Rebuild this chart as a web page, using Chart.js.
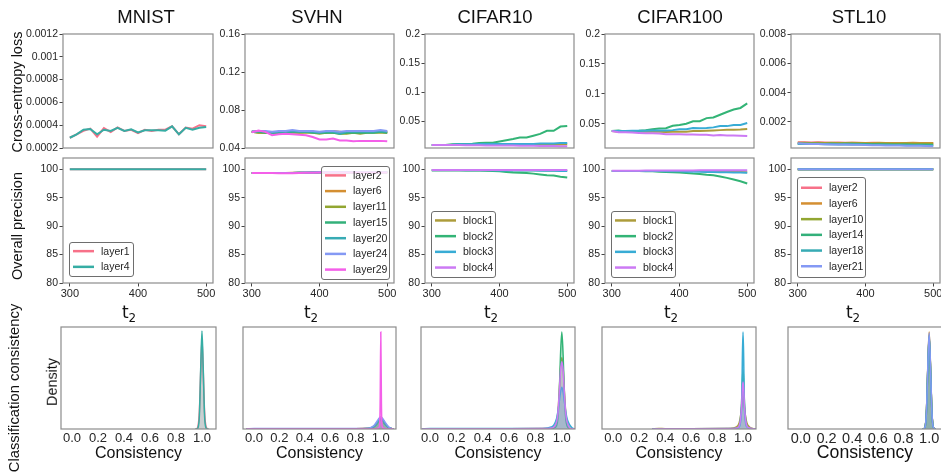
<!DOCTYPE html>
<html><head><meta charset="utf-8">
<script src="https://cdn.jsdelivr.net/npm/chart.js@4.4.1/dist/chart.umd.min.js"></script>
<style>
html,body{margin:0;padding:0;background:#fff;}
body{width:941px;height:472px;overflow:hidden;position:relative;font-family:"Liberation Sans",Arial,sans-serif;}
canvas{position:absolute;}
.lbl{position:absolute;white-space:nowrap;color:#111;line-height:1;}
</style></head><body>
<script>
// ---------------- DATA ----------------
const T2 = [300,310,320,330,340,350,360,370,380,390,400,410,420,430,440,450,460,470,480,490,500];
const T2_TICKS = [300,400,500];
const PREC_TICKS = [80,85,90,95,100];
const CONS_TICKS = [0,0.2,0.4,0.6,0.8,1.0];
const CONS_TICK_LABELS = ['0.0','0.2','0.4','0.6','0.8','1.0'];
const TITLES = ['MNIST','SVHN','CIFAR10','CIFAR100','STL10'];

// MNIST
const mnistSeries = ['layer1','layer4'];
const mnistLossTicks = [0.0002,0.0004,0.0006,0.0008,0.001,0.0012];
const mnistLossTickLabels = ['0.0002','0.0004','0.0006','0.0008','0.001','0.0012'];
const mnistLossL1 = [0.00029,0.00032,0.00035,0.00037,0.00030,0.000375,0.00034,0.00038,0.00035,0.00036,0.00033,0.00036,0.00035,0.00036,0.00036,0.00039,0.00032,0.00038,0.00037,0.00040,0.00039];
const mnistLossL4 = [0.00029,0.00032,0.00036,0.000367,0.00032,0.00036,0.00035,0.000377,0.00035,0.000364,0.000337,0.000356,0.000356,0.000356,0.000352,0.00039,0.00032,0.000377,0.00036,0.000377,0.000385];
const mnistPrecL1 = [100,100,100,100,100,100,100,100,100,100,100,100,100,100,100,100,100,100,100,100,100];
const mnistPrecL4 = [100,100,100,100,100,100,100,100,100,100,100,100,100,100,100,100,100,100,100,100,100];
const mnistDensX = [0.95,0.96,0.97,0.98,0.99,1.00,1.01,1.02,1.03,1.04,1.05];
const mnistDensL1 = [0,0.5,3,17,55,88,55,17,3,0.5,0];
const mnistDensL4 = [0,0,1.5,13,58,96,58,13,1.5,0,0];

// SVHN
const svhnSeries = ['layer2','layer6','layer11','layer15','layer20','layer24','layer29'];
const svhnLossTicks = [0.04,0.08,0.12,0.16];
const svhnLossTickLabels = ['0.04','0.08','0.12','0.16'];
const svhnLossL2  = [0.057,0.058,0.057,0.056,0.056,0.057,0.057,0.057,0.057,0.057,0.056,0.057,0.057,0.056,0.056,0.057,0.057,0.057,0.057,0.057,0.057];
const svhnLossL6  = [0.057,0.056,0.056,0.056,0.057,0.057,0.057,0.056,0.057,0.057,0.056,0.056,0.058,0.057,0.056,0.056,0.057,0.057,0.057,0.057,0.056];
const svhnLossL11 = [0.057,0.056,0.056,0.056,0.056,0.056,0.056,0.056,0.056,0.056,0.055,0.056,0.056,0.055,0.055,0.056,0.055,0.056,0.056,0.056,0.056];
const svhnLossL15 = [0.057,0.057,0.056,0.056,0.056,0.056,0.057,0.057,0.057,0.056,0.056,0.056,0.056,0.055,0.056,0.056,0.056,0.056,0.056,0.057,0.056];
const svhnLossL20 = [0.057,0.058,0.057,0.056,0.057,0.057,0.058,0.057,0.057,0.057,0.056,0.057,0.057,0.055,0.057,0.057,0.057,0.057,0.057,0.058,0.057];
const svhnLossL24 = [0.057,0.058,0.058,0.057,0.058,0.058,0.059,0.058,0.058,0.058,0.057,0.058,0.058,0.057,0.058,0.058,0.058,0.058,0.058,0.059,0.058];
const svhnLossL29 = [0.0565,0.0585,0.057,0.0535,0.0545,0.055,0.0545,0.054,0.0535,0.0515,0.049,0.049,0.050,0.048,0.048,0.047,0.0475,0.0475,0.0475,0.0475,0.047];
const svhnPrecL2  = [99.35,99.35,99.35,99.35,99.35,99.35,99.35,99.4,99.4,99.45,99.5,99.5,99.5,99.5,99.5,99.5,99.5,99.5,99.5,99.5,99.5];
const svhnPrecL6  = [99.35,99.35,99.35,99.35,99.35,99.35,99.4,99.4,99.4,99.45,99.5,99.5,99.5,99.5,99.5,99.5,99.5,99.5,99.55,99.5,99.5];
const svhnPrecL11 = [99.35,99.35,99.35,99.35,99.35,99.35,99.35,99.4,99.4,99.45,99.5,99.5,99.5,99.5,99.5,99.5,99.5,99.5,99.5,99.5,99.5];
const svhnPrecL15 = [99.35,99.35,99.35,99.35,99.35,99.35,99.35,99.4,99.4,99.4,99.45,99.5,99.5,99.5,99.5,99.5,99.5,99.5,99.5,99.5,99.5];
const svhnPrecL20 = [99.35,99.35,99.35,99.35,99.35,99.35,99.35,99.4,99.4,99.45,99.5,99.5,99.5,99.5,99.5,99.5,99.5,99.5,99.5,99.5,99.5];
const svhnPrecL24 = [99.35,99.35,99.35,99.35,99.35,99.35,99.35,99.4,99.45,99.45,99.5,99.5,99.55,99.5,99.5,99.5,99.5,99.5,99.5,99.5,99.5];
const svhnPrecL29 = [99.35,99.35,99.35,99.35,99.3,99.3,99.3,99.35,99.4,99.4,99.45,99.45,99.45,99.45,99.45,99.45,99.45,99.45,99.45,99.45,99.45];
const svhnDensX = [-0.06,0.0,0.2,0.4,0.6,0.8,0.9,0.93,0.95,0.97,0.98,0.99,0.995,1.0,1.005,1.01,1.02,1.03,1.05,1.07,1.1];
const svhnDensL2  = [0,0.3,0.3,0.3,0.3,0.3,0.4,1.2,2.5,5,7,8,8.5,9,8.5,8,7,5,2.5,0.8,0];
const svhnDensL6  = [0,0.3,0.3,0.3,0.3,0.3,0.4,1.2,2.5,5,7,8,8.5,9,8.5,8,7,5,2.5,0.8,0];
const svhnDensL11 = [0,0.3,0.3,0.3,0.3,0.3,0.4,1.2,2.5,5,7,8,8.5,9,8.5,8,7,5,2.5,0.8,0];
const svhnDensL15 = [0,0.3,0.3,0.3,0.3,0.3,0.5,1.4,2.8,5.5,7.5,8.5,9,9.5,9,8.5,7.5,5.5,2.8,0.9,0];
const svhnDensL20 = [0,0.3,0.3,0.3,0.3,0.3,0.5,1.5,3,6,8,9.5,10,10.5,10,9.5,8,6,3,1,0];
const svhnDensL24 = [0,0.5,0.5,0.5,0.5,0.5,0.7,2,4,7.5,9.5,11,11.5,12,11.5,11,9.5,7.5,4,1.3,0];
const svhnDensL29 = [0,0,0,0,0,0,0,0,0.2,0.5,1,3,25,95,25,3,1,0.5,0,0,0];

// CIFAR10
const c10Series = ['block1','block2','block3','block4'];
const cifLossTicks = [0.05,0.1,0.15,0.2];
const cifLossTickLabels = ['0.05','0.1','0.15','0.2'];
const c10LossB1 = [0.0095,0.0095,0.0095,0.0095,0.0095,0.0095,0.0096,0.0096,0.0096,0.0097,0.0097,0.0097,0.0098,0.0098,0.0099,0.0099,0.0100,0.0100,0.0101,0.0104,0.0105];
const c10LossB2 = [0.0095,0.0095,0.0095,0.0105,0.011,0.011,0.0116,0.0126,0.0132,0.0132,0.0153,0.0174,0.0195,0.0221,0.0221,0.0253,0.0284,0.0337,0.0337,0.041,0.0421];
const c10LossB3 = [0.0095,0.0095,0.0095,0.0096,0.0105,0.0105,0.0105,0.011,0.011,0.011,0.011,0.011,0.011,0.0112,0.0112,0.0112,0.0118,0.0118,0.012,0.0128,0.0128];
const c10LossB4 = [0.0095,0.0094,0.0094,0.0092,0.0092,0.0090,0.0090,0.0089,0.0087,0.0087,0.0086,0.0084,0.0084,0.0082,0.0081,0.0080,0.0078,0.0077,0.0075,0.0073,0.0071];
const c10PrecB1 = [99.85,99.85,99.85,99.85,99.85,99.85,99.85,99.85,99.85,99.85,99.85,99.85,99.85,99.85,99.85,99.85,99.85,99.8,99.8,99.8,99.8];
const c10PrecB2 = [99.85,99.85,99.85,99.85,99.85,99.8,99.8,99.8,99.75,99.7,99.65,99.55,99.45,99.4,99.35,99.25,99.1,98.95,98.9,98.7,98.55];
const c10PrecB3 = [99.85,99.85,99.85,99.85,99.85,99.85,99.85,99.85,99.85,99.85,99.8,99.8,99.8,99.8,99.8,99.8,99.75,99.75,99.75,99.7,99.7];
const c10PrecB4 = [99.9,99.9,99.9,99.9,99.9,99.9,99.9,99.9,99.9,99.9,99.9,99.9,99.9,99.9,99.9,99.9,99.9,99.9,99.9,99.9,99.9];
const c10DensX = [-0.06,0.0,0.3,0.6,0.85,0.92,0.94,0.96,0.97,0.98,0.99,1.0,1.01,1.02,1.03,1.04,1.06,1.08,1.1];
const c10DensB1 = [0,0.3,0.3,0.3,0.4,1,2,7,16,36,60,70,60,36,16,7,1,0.2,0];
const c10DensB2 = [0,0.2,0.2,0.2,0.3,0.5,1,3,10,32,72,95,72,32,10,3,0.5,0,0];
const c10DensB3 = [0,0.4,0.4,0.4,0.6,2,4,10,17,26,36,41,36,26,17,10,4,1,0];
const c10DensB4 = [0,0.3,0.3,0.3,0.4,1,2,7,15,34,57,66,57,34,15,7,1,0.2,0];

// CIFAR100
const c100Series = ['block1','block2','block3','block4'];
const c100LossB1 = [0.0376,0.0366,0.0366,0.0366,0.0366,0.0366,0.0366,0.0366,0.0361,0.0366,0.0366,0.0366,0.0376,0.0376,0.0381,0.0387,0.0392,0.0397,0.0397,0.0402,0.0412];
const c100LossB2 = [0.0376,0.0387,0.0371,0.0376,0.0381,0.0392,0.0407,0.0418,0.0423,0.0464,0.0479,0.0500,0.0541,0.0541,0.0593,0.0603,0.0649,0.0696,0.0737,0.0763,0.0840];
const c100LossB3 = [0.0376,0.0376,0.0376,0.0381,0.0381,0.0381,0.0387,0.0387,0.0387,0.0392,0.0407,0.0407,0.0428,0.0423,0.0428,0.0438,0.0459,0.0459,0.0479,0.0479,0.0510];
const c100LossB4 = [0.0376,0.0356,0.0356,0.0351,0.0345,0.0340,0.0340,0.0335,0.0325,0.0325,0.0325,0.0320,0.0320,0.0314,0.0314,0.0304,0.0309,0.0304,0.0304,0.0299,0.0294];
const c100PrecB1 = [99.7,99.7,99.7,99.7,99.7,99.7,99.7,99.7,99.7,99.7,99.7,99.7,99.7,99.7,99.65,99.65,99.6,99.6,99.55,99.55,99.5];
const c100PrecB2 = [99.7,99.7,99.7,99.7,99.7,99.65,99.65,99.6,99.55,99.5,99.45,99.35,99.25,99.2,99.05,98.95,98.75,98.5,98.2,97.9,97.5];
const c100PrecB3 = [99.7,99.7,99.7,99.7,99.7,99.7,99.7,99.7,99.65,99.65,99.65,99.6,99.6,99.6,99.55,99.55,99.5,99.5,99.45,99.45,99.4];
const c100PrecB4 = [99.75,99.75,99.75,99.75,99.75,99.8,99.8,99.8,99.8,99.8,99.8,99.8,99.8,99.85,99.85,99.85,99.85,99.85,99.85,99.85,99.85];
const c100DensX = [0.3,0.35,0.4,0.6,0.9,0.95,0.97,0.98,0.99,0.995,1.0,1.005,1.01,1.02,1.03,1.05,1.08,1.1];
const c100DensB1 = [0,0.6,0.3,0.3,0.5,2,6,12,22,28,32,28,22,12,6,2,0.3,0];
const c100DensB2 = [0,0.3,0.3,0.3,0.4,1,3,10,30,48,58,48,30,10,3,1,0.2,0];
const c100DensB3 = [0,0.3,0.3,0.3,0.3,0.6,2,6,25,70,95,70,25,6,2,0.6,0.1,0];
const c100DensB4 = [0,0.3,0.3,0.3,0.4,1,3,9,25,40,46,40,25,9,3,1,0.2,0];

// STL10
const stlSeries = ['layer2','layer6','layer10','layer14','layer18','layer21'];
const stlLossTicks = [0.002,0.004,0.006,0.008];
const stlLossTickLabels = ['0.002','0.004','0.006','0.008'];
const stlLossL2  = [0.00062,0.00061,0.0006,0.00061,0.0006,0.00059,0.0006,0.00058,0.00059,0.00058,0.00057,0.00058,0.00057,0.00056,0.00057,0.00056,0.00055,0.00056,0.00055,0.00055,0.00054];
const stlLossL6  = [0.00058,0.00058,0.00057,0.00058,0.00057,0.00058,0.00057,0.00057,0.00058,0.00057,0.00056,0.00057,0.00058,0.00057,0.00056,0.00057,0.00057,0.00058,0.00057,0.00057,0.00056];
const stlLossL10 = [0.00055,0.00055,0.00054,0.00055,0.00054,0.00054,0.00055,0.00054,0.00053,0.00054,0.00053,0.00052,0.00053,0.00053,0.00052,0.00052,0.00053,0.00052,0.00052,0.00051,0.00051];
const stlLossL14 = [0.00052,0.00052,0.00051,0.00051,0.0005,0.00051,0.0005,0.00051,0.00051,0.0005,0.00049,0.00048,0.00048,0.00047,0.00047,0.00046,0.00046,0.00045,0.00045,0.00044,0.00043];
const stlLossL18 = [0.0005,0.0005,0.00049,0.00049,0.00048,0.00048,0.00047,0.00047,0.00048,0.00047,0.00046,0.00045,0.00045,0.00044,0.00043,0.00043,0.00042,0.00041,0.00041,0.0004,0.00039];
const stlLossL21 = [0.00054,0.00052,0.0005,0.00049,0.00048,0.00047,0.00046,0.00046,0.00045,0.00044,0.00043,0.00042,0.00041,0.0004,0.0004,0.00039,0.00038,0.00037,0.00037,0.00036,0.00035];
const stlPrecAll = [100,100,100,100,100,100,100,100,100,100,100,100,100,100,100,100,100,100,100,100,100];
const stlDensX = [0.95,0.96,0.97,0.98,0.99,1.00,1.01,1.02,1.03,1.04,1.05];
const stlDensL2  = [0,0.5,3,20,62,90,62,20,3,0.5,0];
const stlDensL6  = [0,0.5,3,21,64,95,64,21,3,0.5,0];
const stlDensL10 = [0,0.5,3,20,62,92,62,20,3,0.5,0];
const stlDensL14 = [0,0.5,3,20,61,90,61,20,3,0.5,0];
const stlDensL18 = [0,0.5,3,20,62,91,62,20,3,0.5,0];
const stlDensL21 = [0,0.5,3,21,64,94,64,21,3,0.5,0];

// ---------------- STYLE ----------------
const PAL2 = ['#f77189','#36ada4'];
const PAL7 = ['#f77189','#d48f32','#92a631','#33b07a','#37abb4','#8499f4','#f45fe9'];
const PAL4 = ['#ad9c3b','#33b476','#38acd5','#cc7af4'];
const FONT = '"Liberation Sans", Arial, sans-serif';
const TICK_COLOR = '#262626';
const FRAME_COLOR = '#8c8c8c';

const framePlugin = {
  id:'frame',
  afterDatasetsDraw(chart){
    const a = chart.chartArea, ctx = chart.ctx;
    ctx.save(); ctx.strokeStyle = FRAME_COLOR; ctx.lineWidth = 1.2;
    ctx.strokeRect(a.left, a.top, a.right - a.left, a.bottom - a.top);
    ctx.restore();
  }
};
const boxLegendPlugin = {
  id:'boxLegend',
  afterDatasetsDraw(chart, args, o){
    if (!o || !o.show) return;
    const a = chart.chartArea, ctx = chart.ctx, ds = chart.data.datasets;
    const n = ds.length, rowH = 15.7, w = o.w, h = o.h;
    const x = (o.right != null) ? a.right - o.right - w : a.left + o.left;
    const y = a.bottom - o.bottom - h;
    ctx.save();
    ctx.beginPath();
    if (ctx.roundRect) ctx.roundRect(x + 0.5, y + 0.5, w, h, 2.5); else ctx.rect(x + 0.5, y + 0.5, w, h);
    ctx.fillStyle = 'rgba(255,255,255,0.8)'; ctx.fill();
    ctx.strokeStyle = '#6e6e6e'; ctx.lineWidth = 1; ctx.stroke();
    const y0 = y + (h - (n - 1) * rowH) / 2;
    ctx.font = '10.5px ' + FONT; ctx.textBaseline = 'middle'; ctx.textAlign = 'left';
    ds.forEach((d, i) => {
      const yy = y0 + i * rowH;
      ctx.strokeStyle = d.borderColor; ctx.lineWidth = 2.5;
      ctx.beginPath(); ctx.moveTo(x + 4, yy); ctx.lineTo(x + 25, yy); ctx.stroke();
      ctx.fillStyle = TICK_COLOR; ctx.fillText(d.label, x + 32, yy + 0.5);
    });
    ctx.restore();
  }
};
Chart.register(framePlugin, boxLegendPlugin);

function mkCanvas(r){
  const c = document.createElement('canvas');
  const w = r.r - r.l, h = r.b - r.t;
  c.width = w; c.height = h;
  c.style.left = r.l + 'px'; c.style.top = r.t + 'px';
  c.style.width = w + 'px'; c.style.height = h + 'px';
  document.body.appendChild(c);
  return c;
}
function zeroPad(s){ s.paddingLeft = 0; s.paddingRight = 0; s.paddingTop = 0; s.paddingBottom = 0; }
function series(xs, ys){ return xs.map((x, i) => ({x: x, y: ys[i]})); }

function lineChart(plot, names, ys, colors, yCfg, showX, legend){
  const cv = {l: plot.l - 70, t: plot.t - 10, r: plot.r + 14, b: plot.b + (showX ? 24 : 10)};
  const datasets = names.map((n, i) => ({label: n, data: series(T2, ys[i]), borderColor: colors[i],
      backgroundColor: colors[i], borderWidth: 2, pointRadius: 0, tension: 0, fill: false,
      order: names.length - i}));
  new Chart(mkCanvas(cv), {
    type: 'line',
    data: {datasets},
    options: {
      responsive: false, animation: false, devicePixelRatio: 1, events: [],
      layout: {padding: {left: 0, top: plot.t - cv.t, right: cv.r - plot.r, bottom: showX ? 0 : cv.b - plot.b}},
      plugins: {legend: {display: false}, tooltip: {enabled: false}, boxLegend: legend || {show: false}},
      scales: {
        x: {type: 'linear', min: 290, max: 510, display: showX,
            afterBuildTicks: s => { s.ticks = T2_TICKS.map(v => ({value: v})); },
            afterFit: s => { s.height = cv.b - plot.b; zeroPad(s); },
            ticks: {autoSkip: false, maxRotation: 0, color: TICK_COLOR, padding: 1, font: {family: FONT, size: 11}},
            grid: {drawOnChartArea: false, drawTicks: true, tickLength: 3.5, color: '#444'},
            border: {display: false}},
        y: {type: 'linear', min: yCfg.min, max: yCfg.max,
            afterBuildTicks: s => { s.ticks = yCfg.ticks.map(v => ({value: v})); },
            afterFit: s => { s.width = plot.l - cv.l; zeroPad(s); },
            ticks: {autoSkip: false, color: TICK_COLOR, padding: 1.5, font: {family: FONT, size: 10.5},
                    callback: (v, i) => yCfg.labels[i]},
            grid: {drawOnChartArea: false, drawTicks: true, tickLength: 3.5, color: '#444'},
            border: {display: false}}
      }
    }
  });
}

function densChart(plot, xmin, xmax, xs, names, ys, colors, tickSize){
  const cv = {l: plot.l - 20, t: plot.t - 6, r: plot.r + 20, b: plot.b + 20};
  const datasets = names.map((n, i) => ({label: n, data: series(xs, ys[i]), borderColor: colors[i],
      backgroundColor: colors[i] + '40', borderWidth: 1.5, pointRadius: 0,
      cubicInterpolationMode: 'monotone', fill: 'origin', order: names.length - i}));
  new Chart(mkCanvas(cv), {
    type: 'line',
    data: {datasets},
    options: {
      responsive: false, animation: false, devicePixelRatio: 1, events: [],
      layout: {padding: {left: plot.l - cv.l, top: plot.t - cv.t, right: cv.r - plot.r, bottom: 0}},
      plugins: {legend: {display: false}, tooltip: {enabled: false}, boxLegend: {show: false}},
      scales: {
        x: {type: 'linear', min: xmin, max: xmax,
            afterBuildTicks: s => { s.ticks = CONS_TICKS.map(v => ({value: v})); },
            afterFit: s => { s.height = cv.b - plot.b; zeroPad(s); },
            ticks: {autoSkip: false, maxRotation: 0, color: TICK_COLOR, padding: 1.5, font: {family: FONT, size: tickSize},
                    callback: (v, i) => CONS_TICK_LABELS[i]},
            grid: {display: false, drawTicks: false, tickLength: 0}, border: {display: false}},
        y: {type: 'linear', min: 0, max: 100, display: false}
      }
    }
  });
}

function label(html, cx, cy, size, rot, family){
  const d = document.createElement('div');
  d.className = 'lbl'; d.innerHTML = html;
  d.style.fontSize = size + 'px';
  if (family) d.style.fontFamily = family;
  d.style.left = cx + 'px'; d.style.top = cy + 'px';
  d.style.transform = 'translate(-50%,-50%)' + (rot ? ' rotate(-90deg)' : '');
  document.body.appendChild(d);
}

// ---------------- LAYOUT ----------------
const TOP = {t: 34, b: 158}, MID = {t: 158, b: 283}, DEN = {t: 327, b: 429};
const cols = [
  {pl: 63,  pr: 213, dl: 61,  dr: 216, dmin: -0.085, dmax: 1.108, tx: 146, t2x: 129},
  {pl: 245, pr: 394, dl: 243, dr: 396, dmin: -0.087, dmax: 1.12,  tx: 317, t2x: 311},
  {pl: 425, pr: 574, dl: 421, dr: 575, dmin: -0.068, dmax: 1.10,  tx: 495, t2x: 491},
  {pl: 605, pr: 754, dl: 602, dr: 756, dmin: -0.087, dmax: 1.10,  tx: 680, t2x: 671},
  {pl: 791, pr: 940, dl: 788, dr: 942, dmin: -0.10,  dmax: 1.10,  tx: 859, t2x: 853}
];
const precCfg = {min: 80, max: 102, ticks: PREC_TICKS, labels: PREC_TICKS.map(String)};

// MNIST
lineChart({l: cols[0].pl, r: cols[0].pr, t: TOP.t, b: TOP.b}, mnistSeries, [mnistLossL1, mnistLossL4], PAL2,
  {min: 0.0002, max: 0.0012, ticks: mnistLossTicks, labels: mnistLossTickLabels}, false);
lineChart({l: cols[0].pl, r: cols[0].pr, t: MID.t, b: MID.b}, mnistSeries, [mnistPrecL1, mnistPrecL4], PAL2,
  precCfg, true, {show: true, left: 6, bottom: 7, w: 64, h: 34});
densChart({l: cols[0].dl, r: cols[0].dr, t: DEN.t, b: DEN.b}, cols[0].dmin, cols[0].dmax, mnistDensX,
  mnistSeries, [mnistDensL1, mnistDensL4], PAL2, 13);

// SVHN
lineChart({l: cols[1].pl, r: cols[1].pr, t: TOP.t, b: TOP.b}, svhnSeries,
  [svhnLossL2, svhnLossL6, svhnLossL11, svhnLossL15, svhnLossL20, svhnLossL24, svhnLossL29], PAL7,
  {min: 0.04, max: 0.16, ticks: svhnLossTicks, labels: svhnLossTickLabels}, false);
lineChart({l: cols[1].pl, r: cols[1].pr, t: MID.t, b: MID.b}, svhnSeries,
  [svhnPrecL2, svhnPrecL6, svhnPrecL11, svhnPrecL15, svhnPrecL20, svhnPrecL24, svhnPrecL29], PAL7,
  precCfg, true, {show: true, right: 5, bottom: 4, w: 68, h: 113});
densChart({l: cols[1].dl, r: cols[1].dr, t: DEN.t, b: DEN.b}, cols[1].dmin, cols[1].dmax, svhnDensX, svhnSeries,
  [svhnDensL2, svhnDensL6, svhnDensL11, svhnDensL15, svhnDensL20, svhnDensL24, svhnDensL29], PAL7, 13);

// CIFAR10
lineChart({l: cols[2].pl, r: cols[2].pr, t: TOP.t, b: TOP.b}, c10Series, [c10LossB1, c10LossB2, c10LossB3, c10LossB4], PAL4,
  {min: 0.0042, max: 0.2, ticks: cifLossTicks, labels: cifLossTickLabels}, false);
lineChart({l: cols[2].pl, r: cols[2].pr, t: MID.t, b: MID.b}, c10Series, [c10PrecB1, c10PrecB2, c10PrecB3, c10PrecB4], PAL4,
  precCfg, true, {show: true, left: 6, bottom: 6, w: 64, h: 66});
densChart({l: cols[2].dl, r: cols[2].dr, t: DEN.t, b: DEN.b}, cols[2].dmin, cols[2].dmax, c10DensX, c10Series,
  [c10DensB1, c10DensB2, c10DensB3, c10DensB4], PAL4, 13);

// CIFAR100
lineChart({l: cols[3].pl, r: cols[3].pr, t: TOP.t, b: TOP.b}, c100Series, [c100LossB1, c100LossB2, c100LossB3, c100LossB4], PAL4,
  {min: 0.0093, max: 0.2, ticks: cifLossTicks, labels: cifLossTickLabels}, false);
lineChart({l: cols[3].pl, r: cols[3].pr, t: MID.t, b: MID.b}, c100Series, [c100PrecB1, c100PrecB2, c100PrecB3, c100PrecB4], PAL4,
  precCfg, true, {show: true, left: 6, bottom: 6, w: 64, h: 66});
densChart({l: cols[3].dl, r: cols[3].dr, t: DEN.t, b: DEN.b}, cols[3].dmin, cols[3].dmax, c100DensX, c100Series,
  [c100DensB1, c100DensB2, c100DensB3, c100DensB4], PAL4, 13);

// STL10
const PAL6 = PAL7.slice(0, 6);
lineChart({l: cols[4].pl, r: cols[4].pr, t: TOP.t, b: TOP.b}, stlSeries,
  [stlLossL2, stlLossL6, stlLossL10, stlLossL14, stlLossL18, stlLossL21], PAL6,
  {min: 0.000224, max: 0.008, ticks: stlLossTicks, labels: stlLossTickLabels}, false);
lineChart({l: cols[4].pl, r: cols[4].pr, t: MID.t, b: MID.b}, stlSeries,
  [stlPrecAll, stlPrecAll, stlPrecAll, stlPrecAll, stlPrecAll, stlPrecAll], PAL6,
  precCfg, true, {show: true, left: 6, bottom: 6, w: 68, h: 100});
densChart({l: cols[4].dl, r: cols[4].dr, t: DEN.t, b: DEN.b}, cols[4].dmin, cols[4].dmax, stlDensX, stlSeries,
  [stlDensL2, stlDensL6, stlDensL10, stlDensL14, stlDensL18, stlDensL21], PAL6, 14.5);

// ---------------- TEXT ----------------
const T2HTML = 't<span style="font-size:70%;position:relative;top:0.3em">2</span>';
cols.forEach((c, i) => {
  label(TITLES[i], c.tx, 16.7, 18.5, false);
  label(T2HTML, c.t2x, 312, 17, false, '"DejaVu Sans", sans-serif');
  label('Consistency', (c.dl + Math.min(c.dr, 942)) / 2, i === 4 ? 453.3 : 452.7, i === 4 ? 17.7 : 16, false);
});
label('Cross-entropy loss', 17, 92, 14.5, true);
label('Overall precision', 17, 226, 14.5, true);
label('Classification consistency', 14, 388, 14.8, true);
label('Density', 52, 382, 14.4, true);
</script>
</body></html>
